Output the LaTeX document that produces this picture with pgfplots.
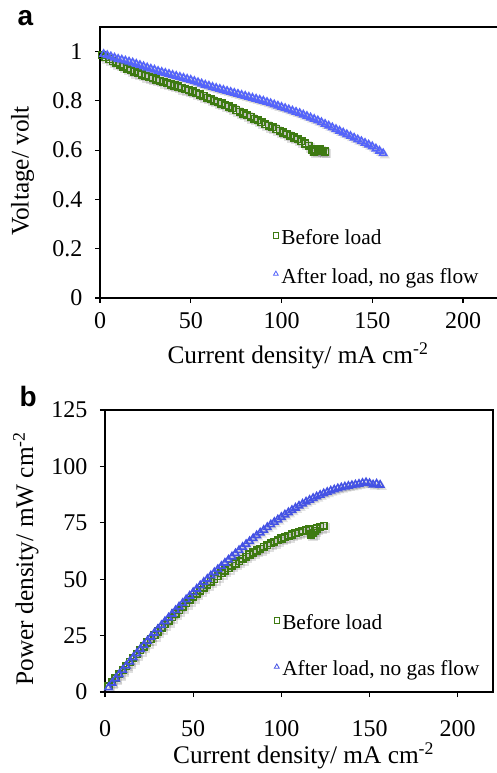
\documentclass[border=0pt]{standalone}
\usepackage{pgfplots}
\usepackage{pgfplotstable}
\pgfplotsset{compat=1.18}
\usepackage{fontspec}
\setmainfont{Liberation Serif}
\newfontfamily\panelfont{Liberation Sans}

\definecolor{before}{RGB}{62,122,18}
\definecolor{after}{RGB}{84,100,250}
\definecolor{afterb}{RGB}{68,82,228}

% panel a: voltage vs current density
\pgfplotstableread{
I V
1 .985
3 .978
5 .970
7 .962
9 .954
11 .947
13 .940
15 .932
17 .925
19 .918
21 .913
23 .907
25 .902
27 .897
29 .892
31 .887
33 .882
35 .877
37 .872
39 .867
41 .862
43 .858
45 .853
47 .848
49 .843
51 .838
53 .832
55 .826
57 .820
59 .813
61 .807
63 .801
65 .795
67 .789
69 .783
71 .777
73 .770
75 .763
77 .756
79 .749
81 .742
83 .735
85 .728
87 .721
89 .713
91 .706
93 .699
95 .693
97 .686
99 .679
101 .672
103 .665
105 .658
107 .651
109 .644
111 .636
113 .627
115 .618
117 .603
118 .595
119 .600
120 .606
121 .604
122 .598
123 .597
124 .595
}\befA

\pgfplotstableread{
I V
2 .990
4 .985
6 .980
8 .975
10 .970
12 .967
14 .963
16 .959
18 .955
20 .950
22 .945
24 .940
26 .935
28 .930
30 .926
32 .921
34 .917
36 .913
38 .909
40 .905
42 .901
44 .897
46 .893
48 .889
50 .885
52 .880
54 .875
56 .870
58 .865
60 .861
62 .856
64 .852
66 .848
68 .844
70 .840
72 .836
74 .832
76 .828
78 .824
80 .820
82 .816
84 .812
86 .808
88 .804
90 .800
92 .795
94 .790
96 .785
98 .780
100 .775
102 .770
104 .765
106 .760
108 .755
110 .750
112 .744
114 .738
116 .732
118 .726
120 .720
122 .713
124 .706
126 .699
128 .692
130 .685
132 .678
134 .671
136 .664
138 .657
140 .650
142 .643
144 .636
146 .629
148 .622
150 .615
152 .606
154 .597
156 .587
}\aftA

% panel b: power density vs current density
\pgfplotstableread{
I P
2 2.5
4 4.3
6 6.1
8 7.9
10 9.7
12 11.5
14 13.3
16 15.1
18 16.8
20 18.5
22 20.2
24 21.9
26 23.5
28 25.2
30 26.8
32 28.4
34 30.0
36 31.6
38 33.2
40 34.8
42 36.3
44 37.8
46 39.3
48 40.8
50 42.2
52 43.6
54 45.0
56 46.3
58 47.6
60 48.9
62 50.1
64 51.4
66 52.6
68 53.8
70 54.9
72 56.0
74 57.0
76 58.0
78 59.0
80 60.0
82 60.9
84 61.8
86 62.7
88 63.5
90 64.3
92 65.1
94 65.9
96 66.6
98 67.3
100 68.0
102 68.6
104 69.2
106 69.8
108 70.4
110 70.9
112 71.4
114 71.7
116 72.0
117 69.8
118 70.6
119 71.5
120 72.5
122 73.2
124 73.6
}\befB

\pgfplotstableread{
I P
2 2.0
4 4.0
6 5.9
8 7.8
10 9.7
12 11.6
14 13.4
16 15.3
18 17.1
20 19.0
22 20.8
24 22.6
26 24.4
28 26.2
30 27.9
32 29.6
34 31.3
36 32.9
38 34.6
40 36.2
42 37.8
44 39.4
46 41.0
48 42.6
50 44.2
52 45.7
54 47.2
56 48.7
58 50.1
60 51.6
62 53.0
64 54.4
66 55.8
68 57.2
70 58.6
72 60.0
74 61.4
76 62.8
78 64.2
80 65.5
82 66.8
84 68.1
86 69.4
88 70.6
90 71.8
92 73.0
94 74.2
96 75.3
98 76.4
100 77.5
102 78.6
104 79.6
106 80.6
108 81.6
110 82.5
112 83.4
114 84.3
116 85.1
118 85.9
120 86.6
122 87.3
124 88.0
126 88.6
128 89.2
130 89.7
132 90.2
134 90.6
136 91.0
138 91.3
140 91.6
142 91.9
144 92.2
146 92.6
148 92.9
150 92.5
152 91.9
154 92.3
156 91.8
}\aftB

\pgfplotsset{
  fcstyle/.style={
    scale only axis,
    anchor=south west,
    xmin=0, xmax=220,
    xtick={0,50,100,150,200},
    tick align=outside,
    xtick pos=bottom, ytick pos=left,
    major tick length=3.75pt,
    axis line style={line width=1pt},
    major tick style={line width=0.9pt, black},
    /pgf/number format/assume math mode=true,
    ticklabel style={font=\fontsize{18}{21}\selectfont},
    yticklabel style={xshift=-6pt},
    label style={font=\fontsize{19}{22}\selectfont},
    xlabel={Current density/ mA cm\textsuperscript{-2}},
    legend cell align=left,
    legend style={draw=none, fill=none, font=\fontsize{16}{19}\selectfont,
      anchor=north west},
    legend image code/.code={\draw[#1, mark size=2.1pt, yshift=2pt, mark options={line width=0.6pt, fill=none}] plot coordinates {(0cm,0cm)};},
  },
  bef/.style={only marks, mark=square, mark size=2.5pt, color=before, mark options={line width=1.2pt}},
  aft/.style={only marks, mark=triangle, mark size=3.1pt, color=#1, mark options={line width=1.2pt}},
  shadow/.style={only marks, forget plot, mark=#1, mark size=2.8pt, color=black, opacity=0.12,
    mark options={line width=1.6pt, xshift=1.2pt, yshift=-1.5pt}},
}

\begin{document}
\begin{tikzpicture}
\useasboundingbox (0,0) rectangle (372pt,579.75pt);

\node[anchor=base west, font=\panelfont\bfseries\fontsize{21}{24}\selectfont] at (9.75pt,560.25pt) {a};
\node[anchor=base west, font=\panelfont\bfseries\fontsize{21}{24}\selectfont] at (11.25pt,274.5pt) {b};

\begin{axis}[fcstyle,
  at={(75pt,356.25pt)}, width=299.5pt, height=203.25pt,
  ymin=0, ymax=1.1,
  ytick={0,0.2,0.4,0.6,0.8,1},
  yticklabels={0,0.2,0.4,0.6,0.8,1},
  xticklabel style={yshift=-4pt},
  ylabel={Voltage/ volt},
  ylabel style={at={(axis description cs:-0.194,0.469)}, anchor=center},
  xlabel style={at={(axis description cs:0.496,-0.240)}, anchor=base},
  legend style={at={(axis cs:93,0.30)}, row sep=12pt},
]
\addplot[shadow=square] table[x=I, y=V] {\befA};
\addplot[shadow=triangle] table[x=I, y=V] {\aftA};
\addplot[bef] table[x=I, y=V] {\befA};
\addplot[aft=after] table[x=I, y=V] {\aftA};
\legend{Before load, {After load, no gas flow}}
\end{axis}

\begin{axis}[fcstyle,
  at={(78.75pt,60.75pt)}, width=291pt, height=211.5pt,
  ymin=0, ymax=125,
  ytick={0,25,50,75,100,125},
  ylabel={Power density/ mW cm\textsuperscript{-2}},
  ylabel style={at={(axis description cs:-0.204,0.473)}, anchor=center},
  xlabel style={at={(axis description cs:0.512,-0.252)}, anchor=base},
  xticklabel style={yshift=-14pt},
  legend style={at={(axis cs:93.4,36.8)}, row sep=18pt},
]
\addplot[shadow=square] table[x=I, y=P] {\befB};
\addplot[shadow=triangle] table[x=I, y=P] {\aftB};
\addplot[bef] table[x=I, y=P] {\befB};
\addplot[aft=afterb] table[x=I, y=P] {\aftB};
\legend{Before load, {After load, no gas flow}}
\end{axis}
\end{tikzpicture}
\end{document}
